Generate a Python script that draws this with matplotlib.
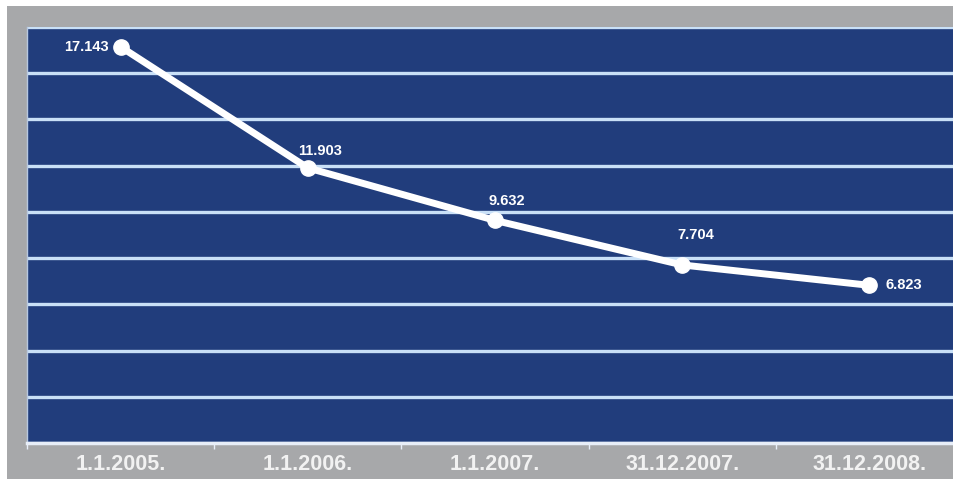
import matplotlib
matplotlib.use("Agg")
import matplotlib.pyplot as plt
from matplotlib.patches import Rectangle

categories = ["1.1.2005.", "1.1.2006.", "1.1.2007.", "31.12.2007.", "31.12.2008."]
values = [17.143, 11.903, 9.632, 7.704, 6.823]
value_labels = ["17.143", "11.903", "9.632", "7.704", "6.823"]
y_ticks = [0, 2, 4, 6, 8, 10, 12, 14, 16, 18]

plt.rcParams['font.family'] = ['Liberation Sans', 'DejaVu Sans']

W, H = 954, 479
fig = plt.figure(figsize=(W / 100, H / 100), dpi=100)
fig.patch.set_facecolor("white")
# gray frame background
fig.patches.append(Rectangle((7 / W, 0), 1 - 7 / W, 1 - 6 / H,
                             transform=fig.transFigure, facecolor="#a7a8aa",
                             edgecolor="none", zorder=-10))

left, right, top, bottom = 27, 963, 27, 443
ax = fig.add_axes([left / W, 1 - bottom / H, (right - left) / W, (bottom - top) / H])
ax.set_zorder(1)
ax.set_facecolor("#213d7c")
ax.set_xlim(-0.5, len(categories) - 0.5)
ax.set_ylim(0, 18)

ax.set_yticks(y_ticks)
ax.yaxis.grid(True, color="#c9e0f7", linewidth=2.4)
ax.set_axisbelow(True)
ax.tick_params(axis="y", left=False, labelleft=False)

x = list(range(len(categories)))
ax.plot(x, values, color="white", linewidth=5, marker="o", markersize=11,
        markerfacecolor="white", markeredgecolor="white", zorder=3, solid_capstyle="round")

offsets = [(-12, 0, "right", "center"), (12, 10, "center", "bottom"),
           (12, 12, "center", "bottom"), (14, 23, "center", "bottom"),
           (16, 0, "left", "center")]
for xi, v, lab, (dx, dy, ha, va) in zip(x, values, value_labels, offsets):
    ax.annotate(lab, (xi, v), xytext=(dx, dy), textcoords="offset pixels",
                ha=ha, va=va, color="white", fontsize=10.5, fontweight="bold", zorder=4)

ax.set_xticks([i - 0.5 for i in range(len(categories) + 1)], minor=False)
ax.set_xticklabels([])
ax.set_xticks(x, minor=True)
ax.set_xticklabels(categories, minor=True)
ax.tick_params(axis="x", which="major", length=4, width=1, color="#e8eef8", direction="out")
ax.tick_params(axis="x", which="minor", length=0, pad=8, labelsize=15.5, labelcolor="#f2f2f2")
for lbl in ax.get_xticklabels(minor=True):
    lbl.set_fontweight("bold")

for s in ["top", "right"]:
    ax.spines[s].set_visible(False)
ax.spines["bottom"].set_color("#e8eef8")
ax.spines["bottom"].set_linewidth(2.5)
ax.spines["left"].set_color("#b8c8e0")
ax.spines["left"].set_linewidth(1)

fig.savefig("out.png", dpi=100)
